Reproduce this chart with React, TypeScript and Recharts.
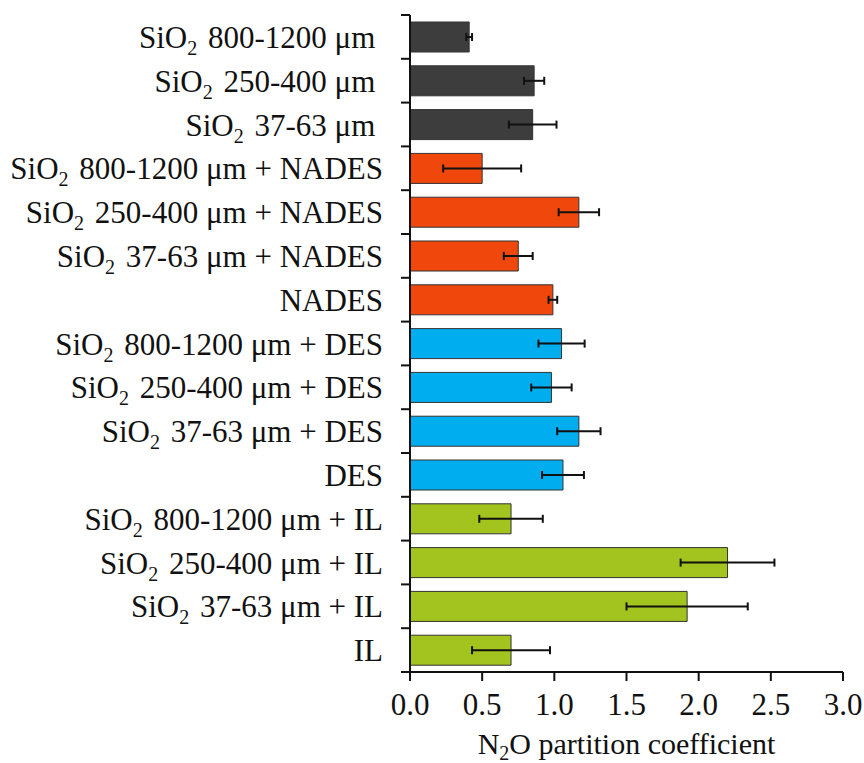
import { Bar, BarChart, Cell, ErrorBar, Label, XAxis, YAxis } from "recharts";

const categories = [
  "SiO2 800-1200 μm ",
  "SiO2 250-400 μm ",
  "SiO2 37-63 μm ",
  "SiO2 800-1200 μm + NADES",
  "SiO2 250-400 μm + NADES",
  "SiO2 37-63 μm + NADES",
  "NADES",
  "SiO2 800-1200 μm + DES",
  "SiO2 250-400 μm + DES",
  "SiO2 37-63 μm + DES",
  "DES",
  "SiO2 800-1200 μm + IL",
  "SiO2 250-400 μm + IL",
  "SiO2 37-63 μm + IL",
  "IL",
];

const partition = [0.41, 0.86, 0.85, 0.5, 1.17, 0.75, 0.99, 1.05, 0.98, 1.17, 1.06, 0.7, 2.2, 1.92, 0.7];
const errors = [0.02, 0.07, 0.165, 0.27, 0.14, 0.1, 0.03, 0.16, 0.14, 0.15, 0.145, 0.22, 0.325, 0.42, 0.27];
const groups = [
  "SiO2", "SiO2", "SiO2",
  "NADES", "NADES", "NADES", "NADES",
  "DES", "DES", "DES", "DES",
  "IL", "IL", "IL", "IL",
];
const xTicks = [0, 0.5, 1, 1.5, 2, 2.5, 3];

const groupColors: Record<string, string> = {
  SiO2: "#3d3d3d",
  NADES: "#f0480c",
  DES: "#00adee",
  IL: "#a3c41f",
};

const rows = categories.map((name, i) => ({
  name,
  value: partition[i],
  err: errors[i],
  group: groups[i],
}));

const FONT = '"Liberation Serif", "Times New Roman", serif';
const TICK_SIZE = 9;
const TICK_MARGIN = 18;

// chemical formulas: the "2" after an element is drawn as a subscript
function ChemText({ text, size, gap = 0, drop = 0.24 }: { text: string; size: number; gap?: number; drop?: number }) {
  const m = text.match(/^(.*?[A-Z][a-z]?)2(.*)$/);
  if (!m) return <>{text}</>;
  const sub = Math.round(size * 0.65);
  const shift = Math.round(size * drop);
  return (
    <>
      <tspan>{m[1]}</tspan>
      <tspan fontSize={sub} dy={shift}>2</tspan>
      <tspan dy={-shift} dx={gap}>{m[2]}</tspan>
    </>
  );
}

function CategoryTick(props: any) {
  const { x, y, payload, index } = props;
  const half = payload.offset || 21.9;
  const x1 = x + TICK_MARGIN;
  const x2 = x1 + TICK_SIZE;
  return (
    <g>
      <line x1={x1} x2={x2} y1={y - half} y2={y - half} stroke="#111" strokeWidth={2} />
      {index === categories.length - 1 && (
        <line x1={x1} x2={x2} y1={y + half} y2={y + half} stroke="#111" strokeWidth={2} />
      )}
      <text
        x={x}
        y={y}
        dy="0.355em"
        textAnchor="end"
        fontSize={31}
        fontFamily={FONT}
        fill="#111"
        style={{ whiteSpace: "pre" }}
      >
        <ChemText text={payload.value} size={31} gap={3} />
      </text>
    </g>
  );
}

function XTitle(props: any) {
  const { viewBox } = props;
  return (
    <text
      x={viewBox.x + viewBox.width / 2}
      y={viewBox.y + 82}
      textAnchor="middle"
      fontSize={30}
      fontFamily={FONT}
      fill="#111"
    >
      <ChemText text="N2O partition coefficient" size={30} drop={0.2} />
    </text>
  );
}

export default function App() {
  return (
    <div
      style={{
        position: "fixed",
        top: 0,
        left: 0,
        width: 864,
        height: 763,
        background: "#fff",
        overflow: "hidden",
      }}
    >
      <BarChart
        width={864}
        height={763}
        data={rows}
        layout="vertical"
        margin={{ top: 15, right: 21, bottom: 0, left: 0 }}
        barCategoryGap="16%"
        style={{ overflow: "visible" }}
      >
        <XAxis
          type="number"
          domain={[0, 3]}
          ticks={xTicks}
          tickFormatter={(v: number) => v.toFixed(1)}
          height={91}
          tickSize={TICK_SIZE}
          tickMargin={12}
          axisLine={{ stroke: "#111", strokeWidth: 2 }}
          tickLine={{ stroke: "#111", strokeWidth: 2 }}
          tick={{ fill: "#111", fontSize: 31, fontFamily: FONT }}
          interval={0}
        >
          <Label content={XTitle} />
        </XAxis>
        <YAxis
          type="category"
          dataKey="name"
          width={410}
          tickSize={TICK_SIZE}
          tickMargin={TICK_MARGIN}
          tickLine={false}
          axisLine={{ stroke: "#111", strokeWidth: 2 }}
          tick={CategoryTick}
          interval={0}
        />
        <Bar dataKey="value" stroke="#333" strokeWidth={1} isAnimationActive={false}>
          {rows.map((r, i) => (
            <Cell key={i} fill={groupColors[r.group]} />
          ))}
          <ErrorBar
            dataKey="err"
            direction="x"
            width={4}
            stroke="#111"
            strokeWidth={2}
            isAnimationActive={false}
          />
        </Bar>
      </BarChart>
    </div>
  );
}
